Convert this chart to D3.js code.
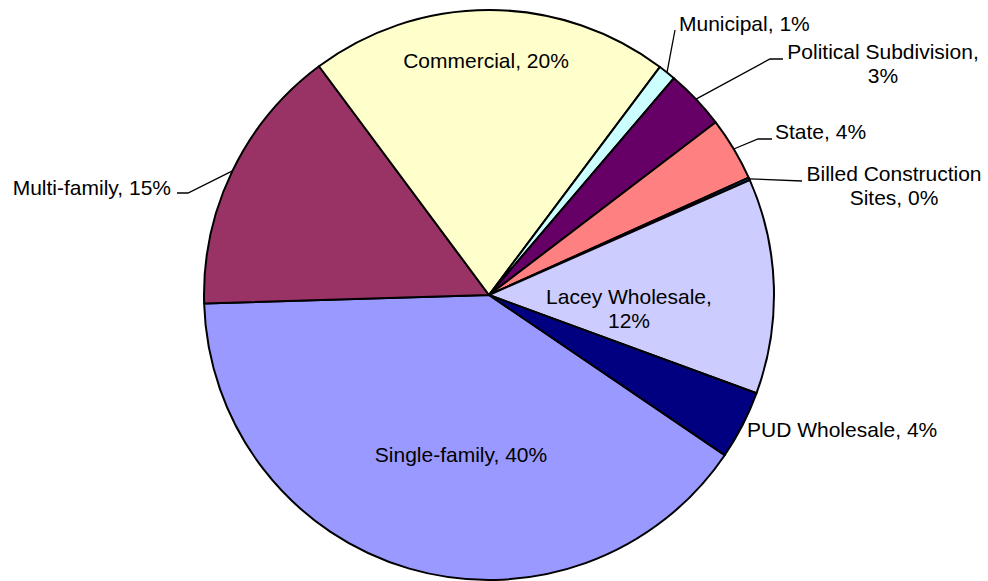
<!DOCTYPE html>
<html>
<head>
<meta charset="utf-8">
<script src="https://cdn.jsdelivr.net/npm/d3@7"></script>
<style>
  body { margin: 0; background: #fff; }
  svg text { font-family: "Liberation Sans", Arial, sans-serif; font-size: 21px; fill: #000; }
</style>
</head>
<body>
<script>
// slice data, clockwise order starting at Single-family
var categories = ["Single-family", "Multi-family", "Commercial", "Municipal",
    "Political Subdivision", "State", "Billed Construction Sites",
    "Lacey Wholesale", "PUD Wholesale"];
var shares = [40.0, 15.3, 20.4, 1.0, 3.4, 3.6, 0.15, 12.2, 3.9];
var labelPct = ["40%", "15%", "20%", "1%", "3%", "4%", "0%", "12%", "4%"];
var colors = ["#9999FF", "#993366", "#FFFFCC", "#CCFFFF", "#660066",
    "#FF8080", "#0066CC", "#CCCCFF", "#000080"];

var width = 988, height = 581;
var cx = 489, cy = 295, r = 285;
var start = 124.2 * Math.PI / 180;

// label placement (layout only)
var labelLayout = {
    "Single-family":            { x: 461, y: 462, anchor: "middle", lines: ["Single-family, 40%"] },
    "Multi-family":             { x: 171, y: 195, anchor: "end", lines: ["Multi-family, 15%"], leader: [[188, 193], [177, 193]] },
    "Commercial":               { x: 486, y: 68, anchor: "middle", lines: ["Commercial, 20%"] },
    "Municipal":                { x: 679, y: 31, anchor: "start", lines: ["Municipal, 1%"], leader: [[675, 30]] },
    "Political Subdivision":    { x: 883, y: 59, anchor: "middle", lines: ["Political Subdivision,", "3%"], leader: [[770, 59], [783, 59]] },
    "State":                    { x: 775, y: 139, anchor: "start", lines: ["State, 4%"], leader: [[758, 139], [772, 139]] },
    "Billed Construction Sites":{ x: 894, y: 181, anchor: "middle", lines: ["Billed Construction", "Sites, 0%"], leader: [[802, 181]] },
    "Lacey Wholesale":          { x: 629, y: 304, anchor: "middle", lines: ["Lacey Wholesale,", "12%"] },
    "PUD Wholesale":            { x: 747, y: 437, anchor: "start", lines: ["PUD Wholesale, 4%"] }
};

var svg = d3.select("body").append("svg")
    .attr("width", width)
    .attr("height", height);

var pie = d3.pie()
    .sort(null)
    .value(function(d) { return d.value; })
    .startAngle(start)
    .endAngle(start + 2 * Math.PI);

var data = categories.map(function(c, i) {
    return { name: c, value: shares[i], color: colors[i], pct: labelPct[i] };
});

var arcs = pie(data);
var arc = d3.arc().innerRadius(0).outerRadius(r);

var g = svg.append("g").attr("transform", "translate(" + cx + "," + cy + ")");

g.selectAll("path.slice")
    .data(arcs)
    .enter()
    .append("path")
    .attr("class", "slice")
    .attr("d", arc)
    .attr("fill", function(d) { return d.data.color; })
    .attr("stroke", "#000")
    .attr("stroke-width", 2)
    .attr("stroke-linejoin", "round");

// leader lines from arc edge at mid angle
arcs.forEach(function(d) {
    var lay = labelLayout[d.data.name];
    if (!lay.leader) return;
    var mid = (d.startAngle + d.endAngle) / 2;
    var pts = [[cx + r * Math.sin(mid), cy - r * Math.cos(mid)]].concat(lay.leader);
    svg.append("path")
        .attr("d", d3.line()(pts))
        .attr("fill", "none")
        .attr("stroke", "#000")
        .attr("stroke-width", 1.3);
});

arcs.forEach(function(d) {
    var lay = labelLayout[d.data.name];
    var t = svg.append("text")
        .attr("x", lay.x)
        .attr("y", lay.y)
        .attr("text-anchor", lay.anchor);
    lay.lines.forEach(function(line, i) {
        t.append("tspan")
            .attr("x", lay.x)
            .attr("dy", i === 0 ? 0 : 23.5)
            .text(line);
    });
});
</script>
</body>
</html>
